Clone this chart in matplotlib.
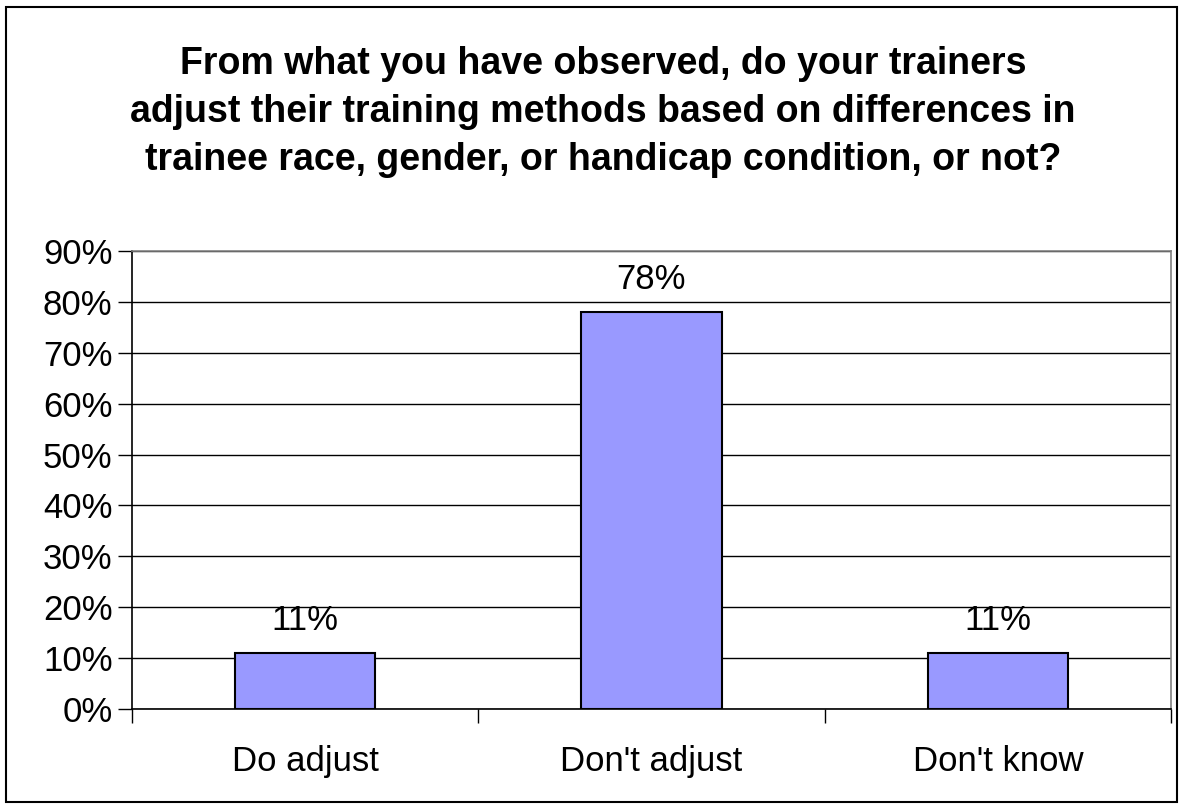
import matplotlib
matplotlib.use("Agg")
import matplotlib.pyplot as plt
from matplotlib.patches import Rectangle

categories = ["Do adjust", "Don't adjust", "Don't know"]
values = [11, 78, 11]
labels = ["11%", "78%", "11%"]
yticks = [0, 10, 20, 30, 40, 50, 60, 70, 80, 90]
title = ("From what you have observed, do your trainers\n"
         "adjust their training methods based on differences in\n"
         "trainee race, gender, or handicap condition, or not?")

plt.rcParams['font.family'] = ['Liberation Sans', 'DejaVu Sans']

W, H = 1181, 806
fig = plt.figure(figsize=(W / 100, H / 100), dpi=100)
fig.patches.append(Rectangle((6 / W, 1 - 802 / H), 1171 / W, 795 / H,
                             transform=fig.transFigure, fill=False,
                             edgecolor='black', linewidth=1.5))

left, right, top, bottom = 132, 1171, 251, 709
ax = fig.add_axes([left / W, 1 - bottom / H, (right - left) / W, (bottom - top) / H])

x = range(len(categories))
ax.bar(x, values, width=0.405, color='#9999ff', edgecolor='black', linewidth=1.5, zorder=3)
for xi, v, lab in zip(x, values, labels):
    ax.text(xi, v + 3.2, lab, ha='center', va='bottom', fontsize=25)

ax.set_xlim(-0.5, 2.5)
ax.set_ylim(0, 90)
ax.set_yticks(yticks)
ax.set_yticklabels([f"{t}%" for t in yticks], fontsize=25)
ax.set_xticks([0.5 + i for i in range(-1, 3)], minor=False)
ax.set_xticklabels([])
ax.set_xticks(list(x), minor=True)
ax.set_xticklabels(categories, minor=True, fontsize=25)
ax.tick_params(axis='x', which='minor', length=0, pad=26)
ax.tick_params(axis='x', which='major', length=10, width=1, color='black', direction='out')
ax.tick_params(axis='y', length=10, width=1, direction='out', pad=4)
ax.grid(axis='y', color='black', linewidth=1, zorder=0)
for s in ['top', 'right']:
    ax.spines[s].set_color('#808080')
    ax.spines[s].set_linewidth(1.2)
for s in ['left', 'bottom']:
    ax.spines[s].set_color('black')
    ax.spines[s].set_linewidth(1.2)

fig.text(603 / W, 1 - 112 / H, title, ha='center', va='center', fontsize=27,
         fontweight='bold', linespacing=1.44, multialignment='center')

fig.savefig("out.png", dpi=100)
